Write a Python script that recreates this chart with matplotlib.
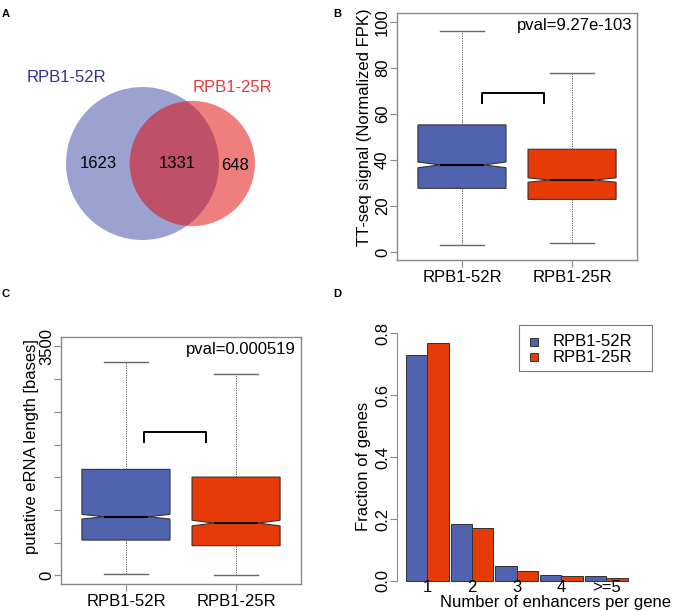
import numpy as np
import matplotlib
matplotlib.use("Agg")
import matplotlib.pyplot as plt
from matplotlib.patches import Circle, Rectangle
import matplotlib.transforms as mtransforms

plt.rcParams['font.family'] = ['Liberation Sans', 'DejaVu Sans']
plt.rcParams['font.size'] = 12

# ---- data ----
# panel A: venn counts
venn_names = ["RPB1-52R", "RPB1-25R"]
only_52r = 1623
both = 1331
only_25r = 648

# panel B: TT-seq signal box stats
box_names = ["RPB1-52R", "RPB1-25R"]
tt_whislo = [3.0, 3.8]
tt_q1 = [27.7, 22.9]
tt_med = [37.9, 31.3]
tt_q3 = [55.3, 44.7]
tt_whishi = [96.3, 77.8]
tt_notch = [1.25, 0.95]
tt_bracket_x = [1.18, 1.746]
tt_bracket_y = [64.7, 69.1]
tt_pval = "pval=9.27e-103"

# panel C: eRNA length box stats
len_whislo = [20, 0]
len_q1 = [539, 453]
len_med = [896, 799]
len_q3 = [1620, 1502]
len_whishi = [3265, 3072]
len_notch = [36, 43]
len_bracket_x = [1.164, 1.73]
len_bracket_y = [2033, 2185]
len_pval = "pval=0.000519"

# panel D: enhancers per gene
enh_labels = ["1", "2", "3", "4", ">=5"]
frac_52r = [0.730, 0.184, 0.049, 0.019, 0.015]
frac_25r = [0.768, 0.170, 0.032, 0.016, 0.010]

blue = '#4F63AE'
red = '#E63A07'
venn_blue = '#3B47A1'
venn_red = '#E10000'

W, H = 673, 611
fig = plt.figure(figsize=(W / 100, H / 100), dpi=100)
# pixel transform with origin at top-left
pix = mtransforms.Affine2D().scale(1 / W, -1 / H).translate(0, 1) + fig.transFigure


def px_axes(left, top, right, bottom):
    return fig.add_axes([left / W, 1 - bottom / H, (right - left) / W, (bottom - top) / H])


def lens_area(d, r1, r2):
    a1 = r1 ** 2 * np.arccos((d ** 2 + r1 ** 2 - r2 ** 2) / (2 * d * r1))
    a2 = r2 ** 2 * np.arccos((d ** 2 + r2 ** 2 - r1 ** 2) / (2 * d * r2))
    a3 = 0.5 * np.sqrt((-d + r1 + r2) * (d + r1 - r2) * (d - r1 + r2) * (d + r1 + r2))
    return a1 + a2 - a3


# ---- panel A: venn ----
axA = px_axes(0, 0, 330, 300)
axA.set_xlim(0, 330)
axA.set_ylim(300, 0)
axA.axis('off')

tot1 = only_52r + both
tot2 = only_25r + both
r1 = 76.5
r2 = r1 * np.sqrt(tot2 / tot1)
target = np.pi * r1 ** 2 * both / tot1
lo, hi = abs(r1 - r2) + 1e-6, r1 + r2 - 1e-6
for _ in range(60):
    mid = (lo + hi) / 2
    if lens_area(mid, r1, r2) > target:
        lo = mid
    else:
        hi = mid
d = (lo + hi) / 2
cx1, cy = 142.5, 163.5
cx2 = cx1 + d
axA.add_patch(Circle((cx1, cy), r1, facecolor=venn_blue, alpha=0.5, lw=0))
axA.add_patch(Circle((cx2, cy), r2, facecolor=venn_red, alpha=0.5, lw=0))
axA.text(((cx1 - r1) + (cx2 - r2)) / 2, cy, str(only_52r), ha='center', va='center')
axA.text(((cx2 - r2) + (cx1 + r1)) / 2 + 3, cy, str(both), ha='center', va='center')
axA.text(((cx1 + r1) + (cx2 + r2)) / 2 - 2, cy + 2, str(only_25r), ha='center', va='center')
axA.text(66, 77, venn_names[0], color='#33338F', ha='center', va='center')
axA.text(232, 87, venn_names[1], color='#E83A3A', ha='center', va='center')


# ---- panels B and C: notched boxplots ----
def box_panel(ax, q1, med, q3, wlo, whi, notch, bx, by, pval, ylim):
    stats = []
    for i in range(len(box_names)):
        stats.append(dict(med=med[i], q1=q1[i], q3=q3[i], whislo=wlo[i], whishi=whi[i],
                          cilo=med[i] - notch[i], cihi=med[i] + notch[i], fliers=[]))
    bp = ax.bxp(stats, positions=[1, 2], widths=0.8, capwidths=0.4, shownotches=True,
                patch_artist=True,
                boxprops=dict(edgecolor='#333333', linewidth=0.8),
                whiskerprops=dict(color='#555555', linestyle=(0, (1.2, 1.2)), linewidth=0.7),
                capprops=dict(color='#666666', linewidth=1.0),
                medianprops=dict(color='black', linewidth=1.5))
    for patch, c in zip(bp['boxes'], [blue, red]):
        patch.set_facecolor(c)
    ax.plot([bx[0], bx[0], bx[1], bx[1]], [by[0], by[1], by[1], by[0]], color='black', lw=1.4)
    ax.text(0.98, 0.95, pval, transform=ax.transAxes, ha='right', va='center')
    ax.set_xlim(0.41, 2.59)
    ax.set_ylim(*ylim)
    ax.set_xticks([1, 2])
    ax.set_xticklabels(box_names)
    for s in ax.spines.values():
        s.set_color('#888888')
        s.set_linewidth(1.0)
    ax.tick_params(axis='both', colors='#888888', labelcolor='black', length=5, width=0.8)
    ax.tick_params(axis='y', labelrotation=90, pad=0)
    ax.tick_params(axis='x', pad=2)


axB = px_axes(397, 13, 637, 260)
box_panel(axB, tt_q1, tt_med, tt_q3, tt_whislo, tt_whishi, tt_notch,
          tt_bracket_x, tt_bracket_y, tt_pval, (-3.5, 104))
axB.set_yticks([0, 20, 40, 60, 80, 100])
for t in axB.get_yticklabels():
    t.set_va('center')
fig.text(364, 127.5, "TT-seq signal (Normalized FPK)", rotation=90,
         ha='center', va='center', transform=pix)

axC = px_axes(61, 337.3, 301, 584.3)
box_panel(axC, len_q1, len_med, len_q3, len_whislo, len_whishi, len_notch,
          len_bracket_x, len_bracket_y, len_pval, (-137.6, 3640))
axC.set_yticks(np.arange(0, 3501, 500))
axC.set_yticklabels(["0", "", "", "", "", "", "", "3500"])
for t in axC.get_yticklabels():
    t.set_va('center')
fig.text(32, 446.7, "putative eRNA length [bases]", rotation=90,
         ha='center', va='center', transform=pix)

# ---- panel D: bars ----
axD = px_axes(397.1, 323.4, 636.4, 590.9)
idx = np.arange(len(enh_labels))
start = 0.1 + idx * 2.1
axD.bar(start + 0.5, frac_52r, width=1.0, color=blue, edgecolor='#333333', linewidth=0.7)
axD.bar(start + 1.5, frac_25r, width=1.0, color=red, edgecolor='#333333', linewidth=0.7)
axD.set_xlim(-0.316, 10.916)
axD.set_ylim(-0.032, 0.832)
for k in ['top', 'right', 'bottom']:
    axD.spines[k].set_visible(False)
axD.spines['left'].set_bounds(0, 0.8)
axD.spines['left'].set_color('#888888')
axD.set_yticks([0, 0.2, 0.4, 0.6, 0.8])
axD.set_yticklabels(["0.0", "0.2", "0.4", "0.6", "0.8"])
axD.tick_params(axis='y', colors='#888888', labelcolor='black', length=5, width=0.8,
                labelrotation=90, pad=0)
for t in axD.get_yticklabels():
    t.set_va('center')
axD.set_xticks([])
trans = mtransforms.blended_transform_factory(axD.transData, axD.transAxes)
for s, lab in zip(start, enh_labels):
    axD.text(s + 1.0, 0.012, lab, transform=trans, ha='center', va='center', clip_on=False)
fig.text(556, 602.5, "Number of enhancers per gene", ha='center', va='center', transform=pix)
fig.text(363.3, 466.7, "Fraction of genes", rotation=90, ha='center', va='center', transform=pix)

# legend drawn by hand to match the wide R legend box
fig.add_artist(Rectangle((519, 325), 132.7, 46, transform=pix, facecolor='white',
                         edgecolor='#777777', linewidth=0.8))
for row, (name, c) in enumerate(zip(["RPB1-52R", "RPB1-25R"], [blue, red])):
    ymid = 341.7 + row * 15.6
    fig.add_artist(Rectangle((530, ymid - 4), 8, 8, transform=pix, facecolor=c,
                             edgecolor='#333333', linewidth=0.7))
    fig.text(552.7, ymid, name, ha='left', va='center', transform=pix)

# ---- panel letters ----
for lab, x, y in [('A', 2, 14), ('B', 333, 14), ('C', 2, 294), ('D', 333, 294)]:
    fig.text(x, y, lab, fontsize=8, fontweight='bold', ha='left', va='center', transform=pix)

fig.savefig("out.png", dpi=100)
